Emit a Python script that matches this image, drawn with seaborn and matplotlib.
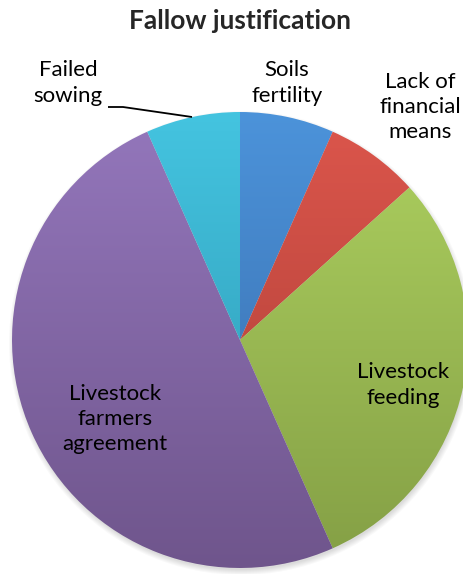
import numpy as np
import matplotlib
matplotlib.use("Agg")
import matplotlib.pyplot as plt
from matplotlib.colors import LinearSegmentedColormap
from matplotlib.patches import Circle
import seaborn as sns

# answers per fallow reason (24, 24, 108, 180, 24 deg)
labels = ["Soils\nfertility", "Lack of\nfinancial\nmeans", "Livestock\nfeeding",
          "Livestock\nfarmers\nagreement", "Failed\nsowing"]
counts = [2, 2, 9, 15, 2]

# Excel-like vertical gradient per slice: light at top, dark at bottom
top_colors = sns.color_palette(["#4c93da", "#dc564c", "#aed160", "#9477bc", "#44c4e0"])
bottom_colors = sns.color_palette(["#3668a6", "#a83c34", "#849f45", "#6f558c", "#2b93ae"])

sns.set_style("white")
plt.rcParams["font.family"] = ["Lato", "DejaVu Sans"]

W, H = 464, 574
fig = plt.figure(figsize=(W / 100, H / 100), dpi=100)
ax = fig.add_axes([0, 0, 1, 1])

cx, cy, r = 240, H - 340, 228

# soft drop shadow under the pie
for k in range(6):
    ax.add_patch(Circle((cx + 1, cy - 3), r + 4 - k, color="black",
                        alpha=0.025, lw=0, zorder=0))

wedges, _ = ax.pie(counts, center=(cx, cy), radius=r, startangle=90,
                   counterclock=False,
                   wedgeprops=dict(facecolor="none", linewidth=0))

grad = np.linspace(0, 1, 256).reshape(-1, 1)
for w, c_top, c_bot in zip(wedges, top_colors, bottom_colors):
    cmap = LinearSegmentedColormap.from_list("slice", [c_bot, c_top])
    im = ax.imshow(grad, cmap=cmap, origin="lower", aspect="auto",
                   extent=(cx - r, cx + r, cy - r, cy + r), zorder=2)
    im.set_clip_path(w)

label_pos = [(287, 83), (420, 107), (403, 385), (115, 419), (68, 83)]
for lab, (x, y) in zip(labels, label_pos):
    ax.text(x, H - y, lab, ha="center", va="center", fontsize=16,
            linespacing=1.32, color="black", zorder=5)

# leader line for "Failed sowing"
ax.plot([108, 123, 192], [H - 107, H - 107, H - 117], color="black", lw=1.3,
        zorder=5, solid_capstyle="butt")

ax.set_xlim(0, W)
ax.set_ylim(0, H)
ax.set_aspect("auto")
ax.axis("off")

fig.text(240 / W, 1 - 21 / H, "Fallow justification", ha="center", va="center",
         fontsize=19, fontweight="bold")

fig.savefig("out.png", dpi=100)
